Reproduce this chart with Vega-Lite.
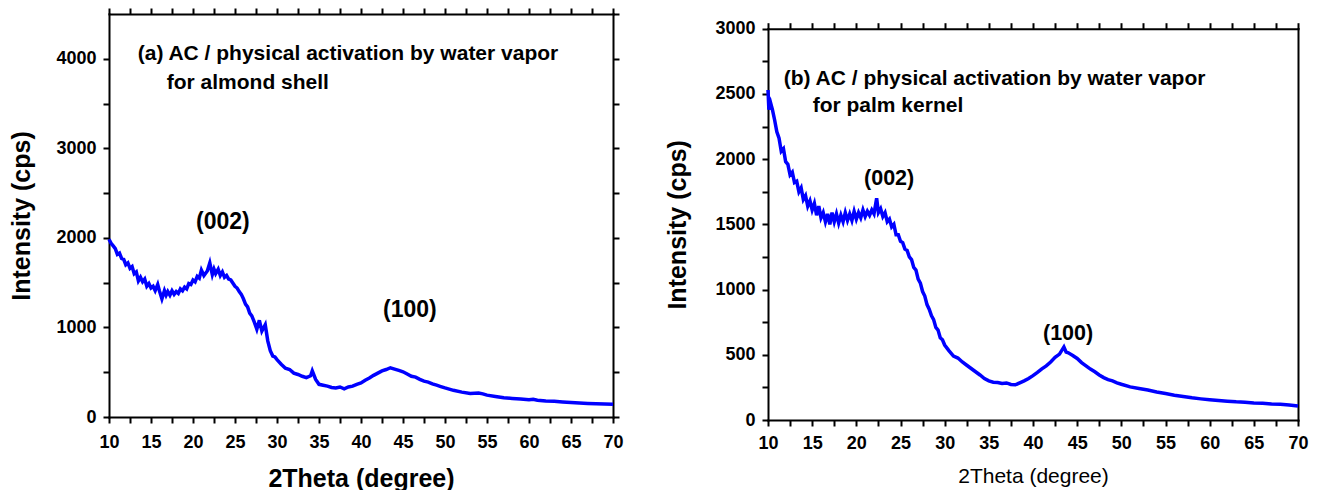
{
  "$schema": "https://vega.github.io/schema/vega-lite/v6.json",
  "padding": {"left": 9, "top": 7, "right": 5, "bottom": 2},
  "spacing": 41,
  "config": {
    "view": {"stroke": null},
    "font": "Liberation Sans",
    "axis": {
      "domainColor": "black", "domainWidth": 2, "domainCap": "square",
      "tickColor": "black", "tickWidth": 2,
      "labelColor": "black", "titleColor": "black",
      "labelFont": "Liberation Sans", "titleFont": "Liberation Sans",
      "labelFontSize": 18, "labelFontWeight": "bold",
      "grid": false, "labelOverlap": false, "labelFlush": false
    }
  },
  "datasets": {
    "a": [
      {"theta":10,"cps":1985},{"theta":10.25,"cps":1940},{"theta":10.5,"cps":1910},{"theta":10.75,"cps":1880},{"theta":11,"cps":1815},{"theta":11.25,"cps":1830},{"theta":11.5,"cps":1770},{"theta":11.75,"cps":1760},{"theta":12,"cps":1700},{"theta":12.25,"cps":1720},{"theta":12.5,"cps":1660},{"theta":12.75,"cps":1680},{"theta":13,"cps":1600},{"theta":13.25,"cps":1620},{"theta":13.5,"cps":1520},{"theta":13.75,"cps":1560},{"theta":14,"cps":1510},{"theta":14.25,"cps":1540},{"theta":14.5,"cps":1460},{"theta":14.75,"cps":1490},{"theta":15,"cps":1440},{"theta":15.25,"cps":1460},{"theta":15.5,"cps":1410},{"theta":15.8,"cps":1480},{"theta":16,"cps":1410},{"theta":16.3,"cps":1320},{"theta":16.6,"cps":1410},{"theta":16.8,"cps":1360},{"theta":17,"cps":1400},{"theta":17.25,"cps":1360},{"theta":17.5,"cps":1410},{"theta":17.75,"cps":1370},{"theta":18,"cps":1400},{"theta":18.25,"cps":1380},{"theta":18.5,"cps":1430},{"theta":18.75,"cps":1410},{"theta":19,"cps":1450},{"theta":19.25,"cps":1430},{"theta":19.5,"cps":1490},{"theta":19.75,"cps":1480},{"theta":20,"cps":1530},{"theta":20.25,"cps":1510},{"theta":20.5,"cps":1570},{"theta":20.75,"cps":1550},{"theta":21,"cps":1640},{"theta":21.3,"cps":1580},{"theta":21.7,"cps":1630},{"theta":22,"cps":1720},{"theta":22.3,"cps":1590},{"theta":22.5,"cps":1650},{"theta":22.7,"cps":1600},{"theta":23,"cps":1650},{"theta":23.25,"cps":1580},{"theta":23.5,"cps":1620},{"theta":23.75,"cps":1560},{"theta":24,"cps":1580},{"theta":24.25,"cps":1540},{"theta":24.5,"cps":1530},{"theta":25,"cps":1460},{"theta":25.25,"cps":1440},{"theta":25.5,"cps":1400},{"theta":25.75,"cps":1370},{"theta":26,"cps":1320},{"theta":26.25,"cps":1260},{"theta":26.5,"cps":1230},{"theta":26.75,"cps":1160},{"theta":27,"cps":1130},{"theta":27.3,"cps":1060},{"theta":27.6,"cps":980},{"theta":27.9,"cps":1080},{"theta":28.2,"cps":960},{"theta":28.6,"cps":1030},{"theta":28.9,"cps":850},{"theta":29.2,"cps":740},{"theta":29.5,"cps":680},{"theta":29.75,"cps":670},{"theta":30,"cps":640},{"theta":30.5,"cps":590},{"theta":31,"cps":545},{"theta":31.5,"cps":530},{"theta":32,"cps":490},{"theta":32.5,"cps":475},{"theta":33,"cps":455},{"theta":33.5,"cps":440},{"theta":34,"cps":460},{"theta":34.2,"cps":515},{"theta":34.6,"cps":420},{"theta":35,"cps":365},{"theta":35.5,"cps":355},{"theta":36,"cps":345},{"theta":36.5,"cps":330},{"theta":37,"cps":325},{"theta":37.5,"cps":335},{"theta":38,"cps":315},{"theta":38.5,"cps":335},{"theta":39,"cps":345},{"theta":39.5,"cps":365},{"theta":40,"cps":380},{"theta":40.5,"cps":410},{"theta":41,"cps":435},{"theta":41.5,"cps":465},{"theta":42,"cps":490},{"theta":42.5,"cps":515},{"theta":43,"cps":530},{"theta":43.5,"cps":550},{"theta":44,"cps":535},{"theta":44.5,"cps":520},{"theta":45,"cps":505},{"theta":45.5,"cps":480},{"theta":46,"cps":455},{"theta":46.5,"cps":445},{"theta":47,"cps":420},{"theta":47.5,"cps":400},{"theta":48,"cps":390},{"theta":48.5,"cps":370},{"theta":49,"cps":355},{"theta":49.5,"cps":340},{"theta":50,"cps":325},{"theta":51,"cps":298},{"theta":52,"cps":278},{"theta":53,"cps":262},{"theta":54,"cps":268},{"theta":54.5,"cps":258},{"theta":55,"cps":244},{"theta":56,"cps":230},{"theta":57,"cps":215},{"theta":58,"cps":207},{"theta":59,"cps":200},{"theta":60,"cps":193},{"theta":60.5,"cps":198},{"theta":61,"cps":188},{"theta":62,"cps":180},{"theta":63,"cps":175},{"theta":64,"cps":168},{"theta":65,"cps":163},{"theta":66,"cps":157},{"theta":67,"cps":152},{"theta":68,"cps":147},{"theta":69,"cps":144},{"theta":70,"cps":142}
    ],
    "b": [
      {"theta":10,"cps":2530},{"theta":10.1,"cps":2380},{"theta":10.3,"cps":2430},{"theta":10.5,"cps":2380},{"theta":10.75,"cps":2300},{"theta":11,"cps":2210},{"theta":11.25,"cps":2160},{"theta":11.5,"cps":2060},{"theta":11.75,"cps":2080},{"theta":12,"cps":1980},{"theta":12.25,"cps":1960},{"theta":12.5,"cps":1880},{"theta":12.75,"cps":1900},{"theta":13,"cps":1820},{"theta":13.25,"cps":1830},{"theta":13.5,"cps":1750},{"theta":13.75,"cps":1780},{"theta":14,"cps":1690},{"theta":14.25,"cps":1720},{"theta":14.5,"cps":1640},{"theta":14.75,"cps":1680},{"theta":15,"cps":1610},{"theta":15.25,"cps":1660},{"theta":15.5,"cps":1570},{"theta":15.75,"cps":1640},{"theta":16,"cps":1550},{"theta":16.25,"cps":1590},{"theta":16.5,"cps":1520},{"theta":16.75,"cps":1580},{"theta":17,"cps":1500},{"theta":17.25,"cps":1590},{"theta":17.5,"cps":1520},{"theta":17.75,"cps":1580},{"theta":18,"cps":1510},{"theta":18.25,"cps":1570},{"theta":18.5,"cps":1520},{"theta":18.75,"cps":1590},{"theta":19,"cps":1530},{"theta":19.25,"cps":1580},{"theta":19.5,"cps":1530},{"theta":19.75,"cps":1600},{"theta":20,"cps":1540},{"theta":20.25,"cps":1590},{"theta":20.5,"cps":1550},{"theta":20.75,"cps":1610},{"theta":21,"cps":1560},{"theta":21.25,"cps":1600},{"theta":21.5,"cps":1570},{"theta":21.75,"cps":1610},{"theta":22,"cps":1580},{"theta":22.3,"cps":1700},{"theta":22.5,"cps":1590},{"theta":22.75,"cps":1620},{"theta":23,"cps":1560},{"theta":23.25,"cps":1590},{"theta":23.5,"cps":1520},{"theta":23.75,"cps":1540},{"theta":24,"cps":1480},{"theta":24.25,"cps":1500},{"theta":24.5,"cps":1420},{"theta":24.75,"cps":1420},{"theta":25,"cps":1370},{"theta":25.25,"cps":1360},{"theta":25.5,"cps":1310},{"theta":25.75,"cps":1300},{"theta":26,"cps":1250},{"theta":26.25,"cps":1230},{"theta":26.5,"cps":1170},{"theta":26.75,"cps":1150},{"theta":27,"cps":1080},{"theta":27.25,"cps":1050},{"theta":27.5,"cps":985},{"theta":27.75,"cps":950},{"theta":28,"cps":885},{"theta":28.25,"cps":850},{"theta":28.5,"cps":800},{"theta":28.75,"cps":770},{"theta":29,"cps":710},{"theta":29.25,"cps":690},{"theta":29.5,"cps":630},{"theta":29.75,"cps":615},{"theta":30,"cps":575},{"theta":30.5,"cps":530},{"theta":31,"cps":490},{"theta":31.5,"cps":475},{"theta":32,"cps":445},{"theta":32.5,"cps":420},{"theta":33,"cps":395},{"theta":33.5,"cps":370},{"theta":34,"cps":345},{"theta":34.5,"cps":318},{"theta":35,"cps":300},{"theta":35.5,"cps":290},{"theta":36,"cps":288},{"theta":36.5,"cps":280},{"theta":37,"cps":284},{"theta":37.5,"cps":272},{"theta":38,"cps":270},{"theta":38.5,"cps":285},{"theta":39,"cps":300},{"theta":39.5,"cps":318},{"theta":40,"cps":340},{"theta":40.5,"cps":365},{"theta":41,"cps":392},{"theta":41.5,"cps":415},{"theta":42,"cps":445},{"theta":42.5,"cps":480},{"theta":43,"cps":505},{"theta":43.5,"cps":560},{"theta":43.75,"cps":520},{"theta":44,"cps":515},{"theta":44.5,"cps":495},{"theta":45,"cps":472},{"theta":45.5,"cps":440},{"theta":46,"cps":415},{"theta":46.5,"cps":390},{"theta":47,"cps":370},{"theta":47.5,"cps":345},{"theta":48,"cps":325},{"theta":48.5,"cps":310},{"theta":49,"cps":300},{"theta":49.5,"cps":285},{"theta":50,"cps":274},{"theta":51,"cps":254},{"theta":52,"cps":242},{"theta":53,"cps":230},{"theta":54,"cps":215},{"theta":55,"cps":203},{"theta":56,"cps":190},{"theta":57,"cps":180},{"theta":58,"cps":170},{"theta":59,"cps":162},{"theta":60,"cps":155},{"theta":61,"cps":149},{"theta":62,"cps":144},{"theta":63,"cps":139},{"theta":64,"cps":136},{"theta":65,"cps":131},{"theta":66,"cps":128},{"theta":67,"cps":123},{"theta":68,"cps":120},{"theta":69,"cps":115},{"theta":70,"cps":108}
    ],
    "notes": [
      {"panel":"a","kind":"title","theta":13.42,"cps":3991,"text":"(a) AC / physical activation by water vapor"},
      {"panel":"a","kind":"title","theta":16.87,"cps":3662,"text":"for almond shell"},
      {"panel":"a","kind":"peak","theta":20.36,"cps":2099,"text":"(002)"},
      {"panel":"a","kind":"peak","theta":42.62,"cps":1117,"text":"(100)"},
      {"panel":"b","kind":"title","theta":11.78,"cps":2571,"text":"(b) AC / physical activation by water vapor"},
      {"panel":"b","kind":"title","theta":15.06,"cps":2363,"text":"for palm kernel"},
      {"panel":"b","kind":"peak","theta":20.87,"cps":1798,"text":"(002)"},
      {"panel":"b","kind":"peak","theta":41.13,"cps":617,"text":"(100)"}
    ]
  },
  "hconcat": [
    {
      "width": 504,
      "height": 403,
      "resolve": {"axis": {"x": "independent", "y": "independent"}},
      "layer": [
        {
          "data": {"name": "a"},
          "mark": {"type": "line", "color": "#0000ff", "strokeWidth": 3.5},
          "encoding": {
            "x": {"field": "theta", "type": "quantitative",
              "scale": {"domain": [10, 70], "nice": false, "zero": false},
              "axis": {"orient": "bottom", "values": [10,12.5,15,17.5,20,22.5,25,27.5,30,32.5,35,37.5,40,42.5,45,47.5,50,52.5,55,57.5,60,62.5,65,67.5,70],
                "format": "d", "labelExpr": "datum.value % 5 === 0 ? datum.label : ''",
                "title": "2Theta (degree)", "titleFontSize": 25, "titleFontWeight": "bold",
                "tickSize": 6, "labelPadding": 10, "titlePadding": 15,
                "encode": {"ticks": {"update": {"y2": {"signal": "datum.value % 5 === 0 ? 6 : 3"}}}}}},
            "y": {"field": "cps", "type": "quantitative",
              "scale": {"domain": [0, 4500], "nice": false},
              "axis": {"orient": "left", "values": [0,500,1000,1500,2000,2500,3000,3500,4000],
                "format": "d", "labelExpr": "datum.value % 1000 === 0 ? datum.label : ''",
                "title": "Intensity (cps)", "titleFontSize": 25, "titleFontWeight": "bold",
                "tickSize": 6, "labelPadding": 7, "titlePadding": 21,
                "encode": {"ticks": {"update": {"x2": {"signal": "datum.value % 1000 === 0 ? -6 : -3"}}}}}}
          }
        },
        {
          "data": {"name": "a"},
          "mark": {"type": "point", "opacity": 0},
          "encoding": {
            "x": {"field": "theta", "type": "quantitative",
              "scale": {"domain": [10, 70], "nice": false, "zero": false},
              "axis": {"orient": "top", "values": [10,12.5,15,17.5,20,22.5,25,27.5,30,32.5,35,37.5,40,42.5,45,47.5,50,52.5,55,57.5,60,62.5,65,67.5,70],
                "labels": false, "title": null, "tickSize": 6,
                "encode": {"ticks": {"update": {"y2": {"signal": "datum.value % 5 === 0 ? 6 : 3"}}}}}},
            "y": {"field": "cps", "type": "quantitative",
              "scale": {"domain": [0, 4500], "nice": false},
              "axis": {"orient": "right", "values": [0,500,1000,1500,2000,2500,3000,3500,4000,4500],
                "labels": false, "title": null, "tickSize": 6,
                "encode": {"ticks": {"update": {"x2": {"signal": "datum.value % 1000 === 0 ? -7 : -3"}}}}}}
          }
        },
        {
          "data": {"name": "notes"},
          "transform": [{"filter": "datum.panel === 'a' && datum.kind === 'title'"}],
          "mark": {"type": "text", "align": "left", "baseline": "alphabetic", "fontSize": 21, "fontWeight": "bold", "font": "Liberation Sans", "color": "black"},
          "encoding": {
            "x": {"field": "theta", "type": "quantitative", "scale": {"domain": [10, 70], "nice": false, "zero": false}, "axis": null},
            "y": {"field": "cps", "type": "quantitative", "scale": {"domain": [0, 4500], "nice": false}, "axis": null},
            "text": {"field": "text"}
          }
        },
        {
          "data": {"name": "notes"},
          "transform": [{"filter": "datum.panel === 'a' && datum.kind === 'peak'"}],
          "mark": {"type": "text", "align": "left", "baseline": "alphabetic", "fontSize": 23, "fontWeight": "bold", "font": "Liberation Sans", "color": "black"},
          "encoding": {
            "x": {"field": "theta", "type": "quantitative", "scale": {"domain": [10, 70], "nice": false, "zero": false}, "axis": null},
            "y": {"field": "cps", "type": "quantitative", "scale": {"domain": [0, 4500], "nice": false}, "axis": null},
            "text": {"field": "text"}
          }
        }
      ]
    },
    {
      "width": 530,
      "height": 406,
      "resolve": {"axis": {"x": "independent", "y": "independent"}},
      "layer": [
        {
          "data": {"name": "b"},
          "mark": {"type": "line", "color": "#0000ff", "strokeWidth": 3.5},
          "encoding": {
            "x": {"field": "theta", "type": "quantitative",
              "scale": {"domain": [10, 70], "nice": false, "zero": false},
              "axis": {"orient": "bottom", "values": [10,12.5,15,17.5,20,22.5,25,27.5,30,32.5,35,37.5,40,42.5,45,47.5,50,52.5,55,57.5,60,62.5,65,67.5,70],
                "format": "d", "labelExpr": "datum.value % 5 === 0 ? datum.label : ''",
                "title": "2Theta (degree)", "titleFontSize": 21, "titleFontWeight": "normal",
                "tickSize": 6, "labelPadding": 8, "titlePadding": 13,
                "encode": {"ticks": {"update": {"y2": {"signal": "datum.value % 5 === 0 ? 6 : 3"}}}}}},
            "y": {"field": "cps", "type": "quantitative",
              "scale": {"domain": [0, 3000], "nice": false, "range": [406, 14.7]},
              "axis": {"orient": "left", "values": [0,250,500,750,1000,1250,1500,1750,2000,2250,2500,2750,3000],
                "format": "d", "labelExpr": "datum.value % 500 === 0 ? datum.label : ''",
                "title": "Intensity (cps)", "titleFontSize": 25, "titleFontWeight": "bold",
                "tickSize": 6, "labelPadding": 7, "titlePadding": 24,
                "encode": {"ticks": {"update": {"x2": {"signal": "datum.value % 500 === 0 ? -6 : -3"}}}}}}
          }
        },
        {
          "data": {"name": "b"},
          "mark": {"type": "point", "opacity": 0},
          "encoding": {
            "x": {"field": "theta", "type": "quantitative",
              "scale": {"domain": [10, 70], "nice": false, "zero": false},
              "axis": {"orient": "top", "offset": -14.7, "values": [10,12.5,15,17.5,20,22.5,25,27.5,30,32.5,35,37.5,40,42.5,45,47.5,50,52.5,55,57.5,60,62.5,65,67.5,70],
                "labels": false, "title": null, "tickSize": 6,
                "encode": {"ticks": {"update": {"y2": {"signal": "datum.value % 5 === 0 ? -6 : -3"}}}}}},
            "y": {"field": "cps", "type": "quantitative",
              "scale": {"domain": [0, 3000], "nice": false, "range": [406, 14.7]},
              "axis": {"orient": "right", "labels": false, "ticks": false, "title": null}}
          }
        },
        {
          "data": {"name": "notes"},
          "transform": [{"filter": "datum.panel === 'b' && datum.kind === 'title'"}],
          "mark": {"type": "text", "align": "left", "baseline": "alphabetic", "fontSize": 21, "fontWeight": "bold", "font": "Liberation Sans", "color": "black"},
          "encoding": {
            "x": {"field": "theta", "type": "quantitative", "scale": {"domain": [10, 70], "nice": false, "zero": false}, "axis": null},
            "y": {"field": "cps", "type": "quantitative", "scale": {"domain": [0, 3000], "nice": false, "range": [406, 14.7]}, "axis": null},
            "text": {"field": "text"}
          }
        },
        {
          "data": {"name": "notes"},
          "transform": [{"filter": "datum.panel === 'b' && datum.kind === 'peak'"}],
          "mark": {"type": "text", "align": "left", "baseline": "alphabetic", "fontSize": 21.5, "fontWeight": "bold", "font": "Liberation Sans", "color": "black"},
          "encoding": {
            "x": {"field": "theta", "type": "quantitative", "scale": {"domain": [10, 70], "nice": false, "zero": false}, "axis": null},
            "y": {"field": "cps", "type": "quantitative", "scale": {"domain": [0, 3000], "nice": false, "range": [406, 14.7]}, "axis": null},
            "text": {"field": "text"}
          }
        }
      ]
    }
  ]
}
